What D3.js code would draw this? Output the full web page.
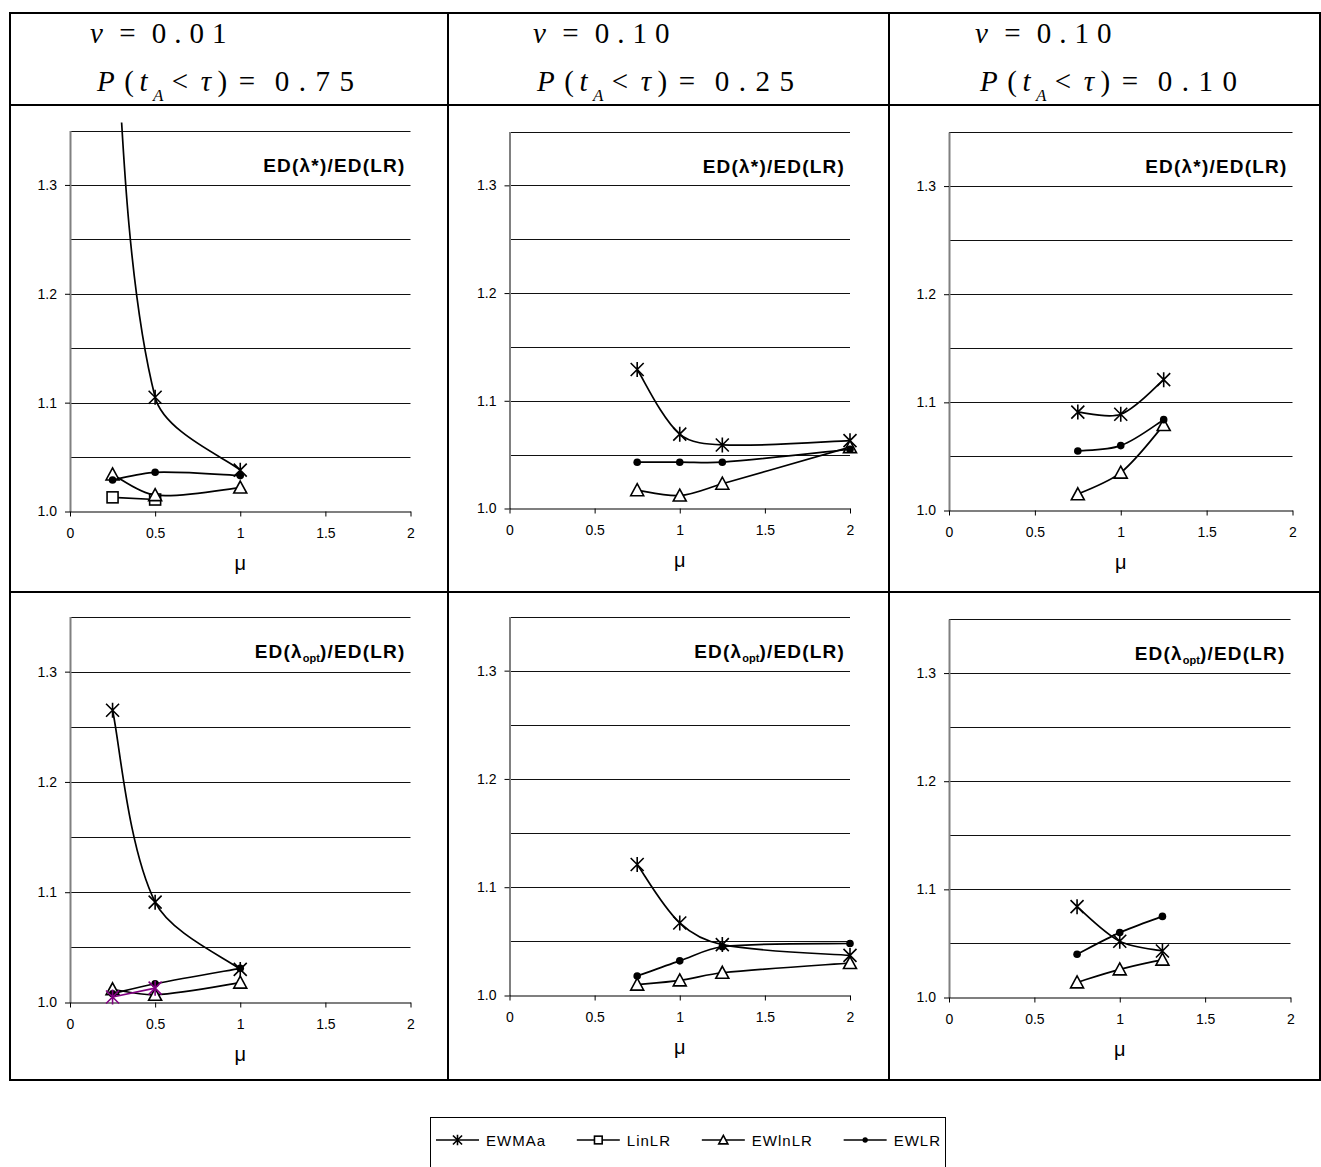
<!DOCTYPE html>
<html>
<head>
<meta charset="utf-8">
<script src="https://cdn.jsdelivr.net/npm/d3@7"></script>
<style>
  body { margin: 0; background: #fff; }
  .sans { font-family: "Liberation Sans", Arial, sans-serif; }
  .serif { font-family: "Liberation Serif", "Times New Roman", serif; }
</style>
</head>
<body>
<svg id="chart" width="1321" height="1167"></svg>
<script>
// ---- data -------------------------------------------------------------
// mu grids used by the three parameter settings (columns)
const muA = [0.25, 0.5, 1];
const muB = [0.75, 1, 1.25, 2];
const muC = [0.75, 1, 1.25];

// column headers
const nuLabels   = ["0.01", "0.10", "0.10"];
const probLabels = ["0.75", "0.25", "0.10"];

// axis ticks
const xTicks = [0, 0.5, 1, 1.5, 2];
const yTicks = [1.0, 1.1, 1.2, 1.3];
const yGrid  = [1.05, 1.1, 1.15, 1.2, 1.25, 1.3, 1.35];

// series names (legend order)
const seriesNames = ["EWMAa", "LinLR", "EWlnLR", "EWLR"];

// ED(lambda*)/ED(LR)
const starA_EWMAa  = [1.50, 1.105, 1.038];
const starA_LinLR  = [1.013, 1.011];
const starA_EWlnLR = [1.034, 1.015, 1.022];
const starA_EWLR   = [1.029, 1.036, 1.033];

const starB_EWMAa  = [1.129, 1.069, 1.059, 1.063];
const starB_EWlnLR = [1.017, 1.012, 1.023, 1.057];
const starB_EWLR   = [1.043, 1.043, 1.043, 1.055];

const starC_EWMAa  = [1.091, 1.089, 1.121];
const starC_EWlnLR = [1.015, 1.035, 1.079];
const starC_EWLR   = [1.055, 1.060, 1.084];

// ED(lambda_opt)/ED(LR)
const optA_EWMAa   = [1.265, 1.091, 1.030];
const optA_EWlnLR  = [1.012, 1.007, 1.018];
const optA_EWLR    = [1.008, 1.017, 1.031];
const optA_extra   = [1.005, 1.013];

const optB_EWMAa   = [1.121, 1.067, 1.047, 1.037];
const optB_EWlnLR  = [1.010, 1.014, 1.021, 1.030];
const optB_EWLR    = [1.018, 1.032, 1.045, 1.048];

const optC_EWMAa   = [1.084, 1.052, 1.043];
const optC_EWlnLR  = [1.014, 1.026, 1.035];
const optC_EWLR    = [1.040, 1.060, 1.075];

// ---- styles -----------------------------------------------------------
const seriesStyle = {
  EWMAa:  { marker: "star",     color: "#000" },
  LinLR:  { marker: "square",   color: "#000" },
  EWlnLR: { marker: "triangle", color: "#000" },
  EWLR:   { marker: "dot",      color: "#000" },
  extra:  { marker: "star",     color: "#800080" }
};

const pairs = (mu, vals) => vals.map((v, i) => [mu[i], v]);

// panel geometry: x0/x1 = pixel of mu 0 / 2, yb/yt = pixel of 1.0 / 1.35
const panels = [
  { x0: 70,  x1: 410.5, yb: 511.5, yt: 130.5, kind: "star",
    series: [["EWMAa", pairs(muA, starA_EWMAa)], ["LinLR", pairs(muA, starA_LinLR)],
             ["EWlnLR", pairs(muA, starA_EWlnLR)], ["EWLR", pairs(muA, starA_EWLR)]] },
  { x0: 509.5, x1: 850, yb: 508.5, yt: 131.5, kind: "star",
    series: [["EWMAa", pairs(muB, starB_EWMAa)], ["EWlnLR", pairs(muB, starB_EWlnLR)],
             ["EWLR", pairs(muB, starB_EWLR)]] },
  { x0: 949, x1: 1292.5, yb: 510.5, yt: 132, kind: "star",
    series: [["EWMAa", pairs(muC, starC_EWMAa)], ["EWlnLR", pairs(muC, starC_EWlnLR)],
             ["EWLR", pairs(muC, starC_EWLR)]] },
  { x0: 70,  x1: 410.5, yb: 1002.5, yt: 616.5, kind: "opt",
    series: [["EWMAa", pairs(muA, optA_EWMAa)], ["EWlnLR", pairs(muA, optA_EWlnLR)],
             ["EWLR", pairs(muA, optA_EWLR)], ["extra", pairs(muA, optA_extra)]] },
  { x0: 509.5, x1: 850, yb: 995.5, yt: 616.5, kind: "opt",
    series: [["EWMAa", pairs(muB, optB_EWMAa)], ["EWlnLR", pairs(muB, optB_EWlnLR)],
             ["EWLR", pairs(muB, optB_EWLR)]] },
  { x0: 949, x1: 1290.5, yb: 997.5, yt: 619, kind: "opt",
    series: [["EWMAa", pairs(muC, optC_EWMAa)], ["EWlnLR", pairs(muC, optC_EWlnLR)],
             ["EWLR", pairs(muC, optC_EWLR)]] }
];

// Spreadsheet-style smoothed line: cubic Bezier segments whose tangents are
// weighted by neighbouring chord lengths; end tangents use 1/6 of the chord.
function curveSmooth(context) {
  let pts = [];
  return {
    areaStart() {}, areaEnd() {},
    lineStart() { pts = []; },
    point(x, y) { pts.push([+x, +y]); },
    lineEnd() {
      const n = pts.length;
      if (!n) return;
      context.moveTo(pts[0][0], pts[0][1]);
      if (n === 2) { context.lineTo(pts[1][0], pts[1][1]); return; }
      const dist = (a, b) => Math.hypot(b[0] - a[0], b[1] - a[1]);
      for (let i = 0; i < n - 1; i++) {
        const P1 = pts[i], P2 = pts[i + 1];
        const d12 = dist(P1, P2);
        let c1, c2;
        if (i === 0) {
          c1 = [P1[0] + (P2[0] - P1[0]) / 6, P1[1] + (P2[1] - P1[1]) / 6];
        } else {
          const P0 = pts[i - 1], f = d12 / (3 * (dist(P0, P1) + d12));
          c1 = [P1[0] + (P2[0] - P0[0]) * f, P1[1] + (P2[1] - P0[1]) * f];
        }
        if (i === n - 2) {
          c2 = [P2[0] - (P2[0] - P1[0]) / 6, P2[1] - (P2[1] - P1[1]) / 6];
        } else {
          const P3 = pts[i + 2], f = d12 / (3 * (d12 + dist(P2, P3)));
          c2 = [P2[0] - (P3[0] - P1[0]) * f, P2[1] - (P3[1] - P1[1]) * f];
        }
        context.bezierCurveTo(c1[0], c1[1], c2[0], c2[1], P2[0], P2[1]);
      }
    }
  };
}

const svg = d3.select("#chart");
svg.append("rect").attr("width", 1321).attr("height", 1167).attr("fill", "#fff");

// ---- markers ----------------------------------------------------------
function drawMarker(g, type, cx, cy, color, s) {
  s = s || 1;
  const m = g.append("g").attr("transform", `translate(${cx},${cy}) scale(${s})`);
  if (type === "star") {
    m.append("path").attr("d", "M-6.5,-6.5L6.5,6.5M-6.5,6.5L6.5,-6.5M0,-7.5L0,7.5")
      .attr("stroke", color).attr("stroke-width", 1.6 / s).attr("fill", "none");
  } else if (type === "square") {
    m.append("rect").attr("x", -5.5).attr("y", -5.5).attr("width", 11).attr("height", 11)
      .attr("fill", "#fff").attr("stroke", color).attr("stroke-width", 1.6 / s);
  } else if (type === "triangle") {
    m.append("path").attr("d", "M0,-6.5L6.5,5.5L-6.5,5.5Z")
      .attr("fill", "#fff").attr("stroke", color).attr("stroke-width", 1.6 / s);
  } else {
    m.append("circle").attr("r", 3.8).attr("fill", color);
  }
}

// ---- panels -----------------------------------------------------------
panels.forEach((p, i) => {
  const x = d3.scaleLinear().domain([0, 2]).range([p.x0, p.x1]);
  const y = d3.scaleLinear().domain([1.0, 1.35]).range([p.yb, p.yt]);
  const g = svg.append("g").attr("class", "sans");

  // gridlines
  g.selectAll("line.grid").data(yGrid).join("line")
    .attr("x1", p.x0).attr("x2", p.x1)
    .attr("y1", d => Math.round(y(d)) + 0.5).attr("y2", d => Math.round(y(d)) + 0.5)
    .attr("stroke", "#111").attr("stroke-width", 1);

  // y axis
  const ya = g.append("g").attr("transform", `translate(${p.x0},0)`)
    .call(d3.axisLeft(y).tickValues(yTicks).tickFormat(d3.format(".1f"))
      .tickSize(5).tickSizeOuter(0).tickPadding(8));
  ya.select(".domain").attr("stroke", "#808080").attr("stroke-width", 2);
  ya.selectAll(".tick line").attr("stroke", "#000");
  ya.selectAll("text").attr("font-size", 14).attr("fill", "#000")
    .style("font-family", "Liberation Sans, Arial, sans-serif");

  // x axis
  const xa = g.append("g").attr("transform", `translate(0,${p.yb})`)
    .call(d3.axisBottom(x).tickValues(xTicks).tickFormat(d => String(d))
      .tickSize(5).tickSizeOuter(0).tickPadding(11.5));
  xa.select(".domain").attr("stroke", "#000").attr("stroke-width", 1.2);
  xa.selectAll(".tick line").attr("stroke", "#000");
  xa.selectAll("text").attr("font-size", 14).attr("fill", "#000")
    .style("font-family", "Liberation Sans, Arial, sans-serif");

  // axis title
  g.append("text").attr("x", (p.x0 + p.x1) / 2).attr("y", p.yb + 58)
    .attr("text-anchor", "middle").attr("font-size", 20).text("μ");

  // panel title
  const t = g.append("text").attr("x", p.x1 - 5).attr("y", p.yt + 41)
    .attr("text-anchor", "end").attr("font-size", 19).attr("font-weight", "bold")
    .attr("letter-spacing", 1.2);
  if (p.kind === "star") {
    t.text("ED(λ*)/ED(LR)");
  } else {
    t.append("tspan").text("ED(λ");
    t.append("tspan").attr("font-size", 11).attr("dy", 4).attr("letter-spacing", 0).text("opt");
    t.append("tspan").attr("dy", -4).text(")/ED(LR)");
  }

  // clipping for the data layer
  const clipId = "clip" + i;
  svg.append("clipPath").attr("id", clipId).append("rect")
    .attr("x", p.x0 - 12).attr("y", p.yt - 8)
    .attr("width", p.x1 - p.x0 + 24).attr("height", p.yb - p.yt + 20);
  const dg = g.append("g").attr("clip-path", `url(#${clipId})`);

  const line = d3.line().x(d => x(d[0])).y(d => y(d[1])).curve(curveSmooth);

  p.series.forEach(([name, pts]) => {
    const st = seriesStyle[name];
    dg.append("path").datum(pts).attr("d", line)
      .attr("fill", "none").attr("stroke", st.color).attr("stroke-width", 1.7);
    pts.forEach(d => drawMarker(dg, st.marker, x(d[0]), y(d[1]), st.color));
  });
});

// ---- column headers -----------------------------------------------------
const headerX = [[90, 97], [533, 537], [975, 980]];
nuLabels.forEach((nu, i) => {
  const t1 = svg.append("text").attr("class", "serif")
    .attr("x", headerX[i][0]).attr("y", 43)
    .attr("font-size", 29).attr("letter-spacing", 4.5);
  t1.append("tspan").attr("font-style", "italic").text("ν");
  t1.append("tspan").text(" = ");
  t1.append("tspan").attr("letter-spacing", 8).text(nu);

  const t2 = svg.append("text").attr("class", "serif")
    .attr("x", headerX[i][1]).attr("y", 91)
    .attr("font-size", 29).attr("letter-spacing", 4.5);
  t2.append("tspan").attr("font-style", "italic").text("P");
  t2.append("tspan").attr("dx", 5).text("(");
  t2.append("tspan").attr("dx", 1).attr("font-style", "italic").text("t");
  t2.append("tspan").attr("font-style", "italic").attr("font-size", 17)
    .attr("dx", 1).attr("dy", 10).text("A");
  t2.append("tspan").attr("dx", 4).attr("dy", -10).text("<");
  t2.append("tspan").attr("dx", 8).attr("font-style", "italic").text("τ");
  t2.append("tspan").attr("dx", 2).text(")");
  t2.append("tspan").attr("dx", 7).text("=");
  t2.append("tspan").attr("dx", 15).attr("letter-spacing", 9.5).text(probLabels[i]);
});

// ---- table frame ------------------------------------------------------
const frame = svg.append("g").attr("stroke", "#000").attr("stroke-width", 2);
[13, 105, 592, 1080].forEach(yy =>
  frame.append("line").attr("x1", 9).attr("x2", 1321).attr("y1", yy).attr("y2", yy));
[10, 448, 889, 1320].forEach(xx =>
  frame.append("line").attr("x1", xx).attr("x2", xx).attr("y1", 12).attr("y2", 1081));

// ---- legend -----------------------------------------------------------
const lg = svg.append("g").attr("class", "sans");
lg.append("rect").attr("x", 430.5).attr("y", 1117.5).attr("width", 515).attr("height", 80)
  .attr("fill", "#fff").attr("stroke", "#000").attr("stroke-width", 1);
const ly = 1140;
const lineLen = 43, textGap = 7, legendFont = 15, legendSpacing = 1;
const widths = seriesNames.map(name => {
  const tmp = lg.append("text").attr("font-size", legendFont)
    .attr("letter-spacing", legendSpacing).text(name);
  const w = tmp.node().getComputedTextLength();
  tmp.remove();
  return w;
});
const used = d3.sum(widths) + seriesNames.length * (lineLen + textGap);
const itemGap = (941 - 436 - used) / (seriesNames.length - 1);
let lx = 436;
seriesNames.forEach((name, k) => {
  const st = seriesStyle[name];
  lg.append("line").attr("x1", lx).attr("x2", lx + lineLen).attr("y1", ly).attr("y2", ly)
    .attr("stroke", st.color).attr("stroke-width", 1.5);
  drawMarker(lg, st.marker, lx + lineLen / 2, ly, st.color, 0.7);
  lg.append("text").attr("x", lx + lineLen + textGap).attr("y", ly + 5.5)
    .attr("font-size", legendFont).attr("letter-spacing", legendSpacing).text(name);
  lx += lineLen + textGap + widths[k] + itemGap;
});
</script>
</body>
</html>
